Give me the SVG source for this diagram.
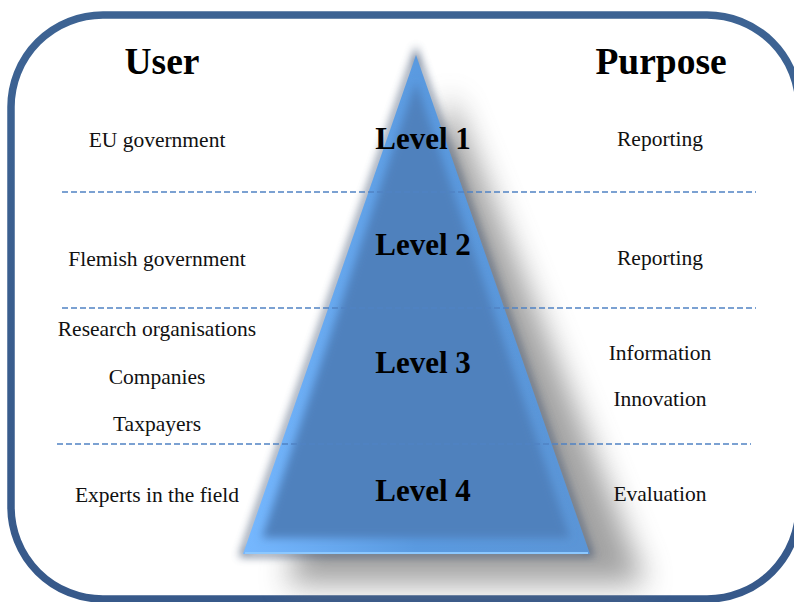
<svg xmlns="http://www.w3.org/2000/svg" width="794" height="602" viewBox="0 0 794 602">
  <defs>
    <style>
      .head { font-family: "Liberation Serif", "Times New Roman", serif; font-weight: bold; font-size: 37.5px; fill: #000; text-anchor: middle; }
      .lvl { font-family: "Liberation Serif", "Times New Roman", serif; font-weight: bold; font-size: 31px; fill: #000; text-anchor: middle; }
      .lbl { font-family: "Liberation Serif", "Times New Roman", serif; font-size: 21.5px; fill: #111; text-anchor: middle; }
      .sep { stroke: #5083c4; stroke-width: 1.7; stroke-dasharray: 6 3; fill: none; }
    </style>
    <filter id="softShadow" x="-30%" y="-30%" width="160%" height="160%">
      <feGaussianBlur stdDeviation="15"/>
    </filter>
    <filter id="glow" x="-20%" y="-20%" width="140%" height="140%">
      <feGaussianBlur stdDeviation="4"/>
    </filter>
    <filter id="bevel" x="-10%" y="-10%" width="120%" height="120%">
      <feGaussianBlur stdDeviation="4"/>
    </filter>
    <linearGradient id="pyrEdge" x1="0" y1="0" x2="1" y2="0">
      <stop offset="0" stop-color="#76b8ff"/>
      <stop offset="0.5" stop-color="#5a9ae0"/>
      <stop offset="1" stop-color="#5b95d6"/>
    </linearGradient>
    <linearGradient id="frameGrad" x1="0" y1="0" x2="0" y2="1">
      <stop offset="0" stop-color="#3d6393"/>
      <stop offset="1" stop-color="#37598a"/>
    </linearGradient>
  </defs>

  <rect width="794" height="602" fill="#fff"/>

  <!-- outer frame -->
  <g id="frame">
    <rect x="11" y="15" width="788" height="584" rx="92" ry="92" fill="none" stroke="url(#frameGrad)" stroke-width="7.5"/>
  </g>

  <!-- pyramid with shadow and bevel -->
  <g id="pyramid">
    <polygon points="450,95 286,584 646,584" fill="#7a7a7a" opacity="0.7" filter="url(#softShadow)"/>
    <polygon points="416,55 243,554 590,554" fill="none" stroke="#3e5170" stroke-width="6" opacity="0.7" filter="url(#glow)"/>
    <polygon points="416,55 243,554 590,554" fill="url(#pyrEdge)"/>
    <polygon points="416,82 262,538 570,538" fill="#4f81bd" filter="url(#bevel)"/>
    <line x1="245" y1="553" x2="588" y2="553" stroke="#8cc8ff" stroke-width="2"/>
  </g>

  <!-- level separators -->
  <g id="connectors">
    <line class="sep" x1="62" y1="192" x2="756" y2="192"/>
    <line class="sep" x1="62" y1="308" x2="756" y2="308"/>
    <line class="sep" x1="57" y1="444" x2="751" y2="444"/>
  </g>

  <g id="headers">
    <text class="head" x="162" y="74">User</text>
    <text class="head" x="661" y="74">Purpose</text>
  </g>

  <g id="level1">
    <text class="lvl" x="423" y="149">Level 1</text>
    <text class="lbl" x="157" y="147">EU government</text>
    <text class="lbl" x="660" y="146">Reporting</text>
  </g>

  <g id="level2">
    <text class="lvl" x="423" y="255">Level 2</text>
    <text class="lbl" x="157" y="266">Flemish government</text>
    <text class="lbl" x="660" y="265">Reporting</text>
  </g>

  <g id="level3">
    <text class="lvl" x="423" y="373">Level 3</text>
    <text class="lbl" x="157" y="336">Research organisations</text>
    <text class="lbl" x="157" y="384">Companies</text>
    <text class="lbl" x="157" y="431">Taxpayers</text>
    <text class="lbl" x="660" y="360">Information</text>
    <text class="lbl" x="660" y="406">Innovation</text>
  </g>

  <g id="level4">
    <text class="lvl" x="423" y="501">Level 4</text>
    <text class="lbl" x="157" y="502">Experts in the field</text>
    <text class="lbl" x="660" y="501">Evaluation</text>
  </g>
</svg>
